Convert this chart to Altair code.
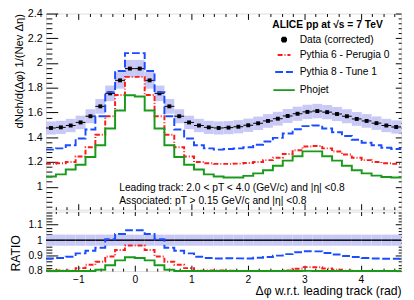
import altair as alt
import numpy as np
import pandas as pd

# ---------------- values ----------------
n_bins = 36  # 10-degree bins from -pi/2 to 3pi/2
data_vals = [1.475, 1.48, 1.495, 1.52, 1.57, 1.65, 1.755, 1.86, 1.955,
             1.955, 1.86, 1.755, 1.65, 1.57, 1.52, 1.495, 1.48, 1.475,
             1.478, 1.485, 1.497, 1.513, 1.532, 1.55, 1.572, 1.59, 1.605,
             1.612, 1.603, 1.588, 1.57, 1.548, 1.532, 1.514, 1.495, 1.483]
pythia6 = [1.185, 1.19, 1.20, 1.245, 1.32, 1.42, 1.57, 1.742, 1.888,
           1.888, 1.742, 1.57, 1.42, 1.32, 1.245, 1.20, 1.19, 1.185,
           1.185, 1.187, 1.192, 1.20, 1.215, 1.235, 1.265, 1.295, 1.325,
           1.33, 1.31, 1.285, 1.26, 1.235, 1.215, 1.20, 1.19, 1.185]
pythia8 = [1.30, 1.31, 1.335, 1.39, 1.462, 1.57, 1.765, 1.935, 2.08,
           2.08, 1.935, 1.765, 1.57, 1.462, 1.39, 1.335, 1.31, 1.30,
           1.305, 1.31, 1.32, 1.34, 1.365, 1.395, 1.43, 1.465, 1.49,
           1.495, 1.47, 1.44, 1.41, 1.38, 1.355, 1.335, 1.315, 1.305]
phojet = [1.082, 1.10, 1.14, 1.178, 1.24, 1.335, 1.47, 1.617, 1.74,
          1.73, 1.617, 1.47, 1.335, 1.24, 1.178, 1.14, 1.10, 1.082,
          1.075, 1.075, 1.088, 1.108, 1.134, 1.17, 1.211, 1.247, 1.286,
          1.286, 1.247, 1.211, 1.17, 1.134, 1.108, 1.09, 1.078, 1.075]
sys_rel = 0.036  # relative systematic band

series_names = ["Data (corrected)", "Pythia 6 -  Perugia 0", "Pythia 8 -  Tune 1", "Phojet"]
series_colors = ["black", "#ff1a1a", "#1a4dff", "#1a9a1a"]
series_dash = [[1, 0], [5, 2, 1, 2], [8, 3], [1, 0]]
legend_title = "ALICE pp at \u221as = 7 TeV"
y_title_top = "dNch/d(\u0394\u03c6) 1/(Nev \u0394\u03b7)"
y_title_ratio = "RATIO"
x_title = "\u0394\u03c6 w.r.t. leading track (rad)"
notes = ["Leading track: 2.0 < pT < 4.0 (GeV/c) and |\u03b7| <0.8",
         "Associated: pT > 0.15 GeV/c and |\u03b7| <0.8"]

x_major = [-1, 0, 1, 2, 3, 4]
x_ticks = [round(v, 2) for v in np.arange(-1.4, 4.61, 0.2)]
y_top_major = [1.0, 1.2, 1.4, 1.6, 1.8, 2.0, 2.2, 2.4]
y_top_ticks = [round(v, 2) for v in np.arange(0.84, 2.401, 0.04)]
y_ratio_major = [0.8, 0.9, 1.0, 1.1]
y_ratio_ticks = [round(v, 2) for v in np.arange(0.8, 1.181, 0.02)]

# ---------------- tables ----------------
bw = 2 * np.pi / n_bins
x0 = [-np.pi / 2 + i * bw for i in range(n_bins)]
x1 = [v + bw for v in x0]
xc = [v + bw / 2 for v in x0]
dv = np.array(data_vals)
bins_df = pd.DataFrame({
    "x0": x0, "x1": x1, "xc": xc, "data": dv,
    "lo": dv * (1 - sys_rel), "hi": dv * (1 + sys_rel),
    "r_lo": dv / dv * (1 - sys_rel), "r_hi": dv / dv * (1 + sys_rel),
    "one": dv / dv,
    "series": series_names[0],
})
edges = x0 + [x1[-1]]
rows = []
for name, vals in zip(series_names[1:], [pythia6, pythia8, phojet]):
    ext = list(vals) + [vals[-1]]
    dext = list(data_vals) + [data_vals[-1]]
    for e, v, d in zip(edges, ext, dext):
        rows.append({"x": e, "y": v, "ratio": v / d, "series": name})
mc_df = pd.DataFrame(rows)

# ---------------- style ----------------
F = "Liberation Sans"
W, H1, H2 = 364, 201, 61
BAND = "#c9c9f7"
X_TEST = "abs(datum.value - round(datum.value)) < 1e-6"
Y1_TEST = "abs(datum.value*5 - round(datum.value*5)) < 1e-6"
Y2_TEST = "abs(datum.value*10 - round(datum.value*10)) < 1e-6"
PLAIN = "datum.value + ''"


def tick_axis(orient, offset, values, test, major, minor):
    return alt.Axis(orient=orient, offset=offset, values=values, labels=False,
                    domain=False, grid=False, title=None, tickColor="black",
                    tickWidth=1,
                    tickSize={"condition": {"test": test, "value": major}, "value": minor})


xs = alt.Scale(domain=[-np.pi / 2, 1.5 * np.pi], nice=False, zero=False)
ys1 = alt.Scale(domain=[0.815, 2.4], nice=False, zero=False)
ys2 = alt.Scale(domain=[0.8, 1.185], nice=False, zero=False, clamp=True)

color_scale = alt.Scale(domain=series_names, range=series_colors)
dash_scale = alt.Scale(domain=series_names, range=series_dash)
shape_scale = alt.Scale(domain=series_names, range=["square", "stroke", "stroke", "stroke"])
size_scale = alt.Scale(domain=series_names, range=[16, 484, 484, 484])

leg = alt.Legend(title=legend_title, orient="none", legendX=232, legendY=7,
                 titleFont=F, titleFontSize=10.5, titleFontWeight="bold",
                 labelFont=F, labelFontSize=10.5, rowPadding=1,
                 symbolStrokeWidth=2, labelOffset=4, titlePadding=4, padding=0)

# ---------------- top panel ----------------
band = alt.Chart(bins_df).mark_rect(color=BAND).encode(
    x=alt.X("x0:Q", scale=xs, axis=tick_axis("top", -H1, x_ticks, X_TEST, 6, 3)),
    x2="x1:Q",
    y=alt.Y("lo:Q", scale=ys1, axis=alt.Axis(
        orient="left", values=y_top_major, ticks=False, domain=False, grid=False,
        labelExpr=PLAIN,
        labelFont=F, labelFontSize=11, labelPadding=4, title=y_title_top,
        titleFont=F, titleFontSize=11.5, titleFontWeight="normal",
        titleAnchor="end", titlePadding=3)),
    y2="hi:Q",
)
hbar = alt.Chart(bins_df).mark_rule(color="black", strokeWidth=1).encode(
    x=alt.X("x0:Q", scale=xs, axis=tick_axis("bottom", -H1, x_ticks, X_TEST, 6, 3)),
    x2="x1:Q",
    y=alt.Y("data:Q", scale=ys1, axis=tick_axis("right", -W, y_top_ticks, Y1_TEST, 12, 6)),
)
points = alt.Chart(bins_df).mark_point(filled=True, opacity=1).encode(
    x=alt.X("xc:Q", scale=xs, axis=None),
    y=alt.Y("data:Q", scale=ys1, axis=tick_axis("left", -W, y_top_ticks, Y1_TEST, 6, 3)),
    color=alt.Color("series:N", scale=color_scale, legend=leg),
    shape=alt.Shape("series:N", scale=shape_scale, legend=leg),
    size=alt.Size("series:N", scale=size_scale, legend=leg),
)
lines = alt.Chart(mc_df).mark_line(interpolate="step-after", strokeWidth=2).encode(
    x=alt.X("x:Q", scale=xs, axis=None),
    y=alt.Y("y:Q", scale=ys1, axis=None),
    color=alt.Color("series:N", scale=color_scale, legend=leg),
    strokeDash=alt.StrokeDash("series:N", scale=dash_scale, legend=leg),
)
note1 = alt.Chart(pd.DataFrame({"t": [notes[0]]})).mark_text(
    align="left", baseline="middle", font=F, fontSize=10.5, color="black"
).encode(text="t:N", x=alt.value(75), y=alt.value(179))
note2 = alt.Chart(pd.DataFrame({"t": [notes[1]]})).mark_text(
    align="left", baseline="middle", font=F, fontSize=10.5, color="black"
).encode(text="t:N", x=alt.value(75), y=alt.value(192))

top = alt.layer(band, hbar, points, lines, note1, note2).resolve_axis(
    x="independent", y="independent").properties(width=W, height=H1)

# ---------------- ratio panel ----------------
rband = alt.Chart(bins_df).mark_rect(color=BAND).encode(
    x=alt.X("x0:Q", scale=xs, axis=alt.Axis(
        orient="bottom", values=x_major, ticks=False, domain=False, grid=False,
        labelFont=F, labelFontSize=10.5, labelPadding=4, title=x_title,
        titleFont=F, titleFontSize=12.5, titleFontWeight="normal",
        titleAnchor="end", titlePadding=0)),
    x2="x1:Q",
    y=alt.Y("r_lo:Q", scale=ys2, axis=alt.Axis(
        orient="left", values=y_ratio_major, ticks=False, domain=False, grid=False,
        labelExpr=PLAIN,
        labelFont=F, labelFontSize=10.5, labelPadding=4, title=y_title_ratio,
        titleFont=F, titleFontSize=12.5, titleFontWeight="normal",
        titleAnchor="start", titlePadding=6)),
    y2="r_hi:Q",
)
runity = alt.Chart(bins_df).mark_rule(color="black", strokeWidth=1.5).encode(
    x=alt.X("x0:Q", scale=xs, axis=tick_axis("top", -H2, x_ticks, X_TEST, 6, 3)),
    x2="x1:Q",
    y=alt.Y("one:Q", scale=ys2, axis=tick_axis("right", -W, y_ratio_ticks, Y2_TEST, 12, 6)),
)
rlines = alt.Chart(mc_df).mark_line(interpolate="step-after", strokeWidth=2).encode(
    x=alt.X("x:Q", scale=xs, axis=tick_axis("bottom", -H2, x_ticks, X_TEST, 4, 2)),
    y=alt.Y("ratio:Q", scale=ys2, axis=tick_axis("left", -W, y_ratio_ticks, Y2_TEST, 6, 3)),
    color=alt.Color("series:N", scale=color_scale, legend=None),
    strokeDash=alt.StrokeDash("series:N", scale=dash_scale, legend=None),
)
ratio = alt.layer(rband, runity, rlines).resolve_axis(
    x="independent", y="independent").properties(width=W, height=H2)

chart = alt.vconcat(top, ratio, spacing=0).resolve_scale(
    color="independent", strokeDash="independent", shape="independent", size="independent"
).resolve_legend(
    color="independent", strokeDash="independent", shape="independent", size="independent"
).properties(
    padding={"left": 0, "top": -5, "right": 0, "bottom": 0}
).configure_view(stroke="black", strokeWidth=1).configure(font=F)

chart.save("out.html", embed_options={"renderer": "svg", "actions": False})
